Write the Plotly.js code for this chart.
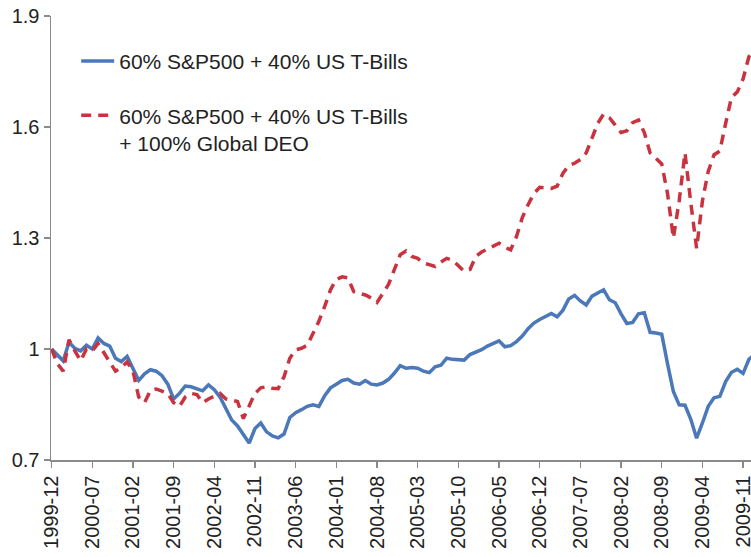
<!DOCTYPE html>
<html>
<head>
<meta charset="utf-8">
<script src="https://cdn.plot.ly/plotly-3.0.1.min.js"></script>
<style>html,body{margin:0;padding:0;background:#fff;}#chart{width:751px;height:557px;}</style>
</head>
<body>
<div id="chart"></div>
<script>
var months = [
'1999-12',
'2000-01','2000-02','2000-03','2000-04','2000-05','2000-06','2000-07','2000-08','2000-09','2000-10','2000-11','2000-12',
'2001-01','2001-02','2001-03','2001-04','2001-05','2001-06','2001-07','2001-08','2001-09','2001-10','2001-11','2001-12',
'2002-01','2002-02','2002-03','2002-04','2002-05','2002-06','2002-07','2002-08','2002-09','2002-10','2002-11','2002-12',
'2003-01','2003-02','2003-03','2003-04','2003-05','2003-06','2003-07','2003-08','2003-09','2003-10','2003-11','2003-12',
'2004-01','2004-02','2004-03','2004-04','2004-05','2004-06','2004-07','2004-08','2004-09','2004-10','2004-11','2004-12',
'2005-01','2005-02','2005-03','2005-04','2005-05','2005-06','2005-07','2005-08','2005-09','2005-10','2005-11','2005-12',
'2006-01','2006-02','2006-03','2006-04','2006-05','2006-06','2006-07','2006-08','2006-09','2006-10','2006-11','2006-12',
'2007-01','2007-02','2007-03','2007-04','2007-05','2007-06','2007-07','2007-08','2007-09','2007-10','2007-11','2007-12',
'2008-01','2008-02','2008-03','2008-04','2008-05','2008-06','2008-07','2008-08','2008-09','2008-10','2008-11','2008-12',
'2009-01','2009-02','2009-03','2009-04','2009-05','2009-06','2009-07','2009-08','2009-09','2009-10','2009-11','2009-12',
'2010-01'
];

var portfolio6040 = [
1.000,
0.985,0.968,1.018,1.002,0.995,1.010,1.000,1.030,1.015,1.008,0.975,0.966,
0.980,0.945,0.915,0.933,0.944,0.940,0.928,0.905,0.865,0.880,0.900,0.898,
0.893,0.887,0.903,0.890,0.870,0.838,0.808,0.792,0.770,0.746,0.785,0.800,
0.776,0.765,0.760,0.770,0.815,0.828,0.836,0.845,0.849,0.845,0.874,0.895,
0.905,0.915,0.918,0.908,0.905,0.915,0.905,0.903,0.908,0.918,0.935,0.955,
0.948,0.950,0.948,0.940,0.936,0.952,0.956,0.975,0.972,0.972,0.970,0.985,
0.992,0.998,1.008,1.015,1.022,1.006,1.009,1.020,1.035,1.055,1.070,1.080,
1.088,1.096,1.087,1.105,1.135,1.145,1.130,1.119,1.143,1.152,1.160,1.133,
1.125,1.095,1.069,1.072,1.095,1.098,1.045,1.043,1.040,0.960,0.885,0.849,
0.848,0.810,0.759,0.800,0.845,0.868,0.872,0.912,0.937,0.945,0.934,0.972,
0.985
];

var portfolioDEO = [
1.000,
0.960,0.940,1.025,0.995,0.968,1.000,0.995,1.015,0.990,0.966,0.940,0.950,
0.965,0.940,0.870,0.855,0.888,0.892,0.886,0.880,0.855,0.845,0.870,0.880,
0.877,0.855,0.865,0.872,0.880,0.865,0.862,0.858,0.812,0.845,0.880,0.895,
0.898,0.894,0.893,0.925,0.975,0.998,1.002,1.010,1.040,1.075,1.115,1.160,
1.188,1.195,1.192,1.155,1.150,1.146,1.138,1.126,1.150,1.175,1.215,1.255,
1.265,1.250,1.245,1.232,1.228,1.223,1.235,1.245,1.240,1.225,1.210,1.215,
1.250,1.262,1.270,1.278,1.286,1.275,1.268,1.304,1.355,1.390,1.420,1.437,
1.435,1.434,1.440,1.475,1.496,1.502,1.512,1.530,1.570,1.610,1.635,1.625,
1.605,1.585,1.590,1.612,1.619,1.585,1.530,1.515,1.500,1.420,1.300,1.400,
1.530,1.395,1.272,1.400,1.480,1.525,1.535,1.610,1.680,1.695,1.730,1.790,
1.810
];

var xTickLabels = ['1999-12','2000-07','2001-02','2001-09','2002-04','2002-11','2003-06','2004-01','2004-08','2005-03','2005-10','2006-05','2006-12','2007-07','2008-02','2008-09','2009-04','2009-11'];
var yTickValues = [0.7, 1, 1.3, 1.6, 1.9];
var yTickLabels = ['0.7', '1', '1.3', '1.6', '1.9'];
var seriesNames = ['60% S&P500 + 40% US T-Bills', '60% S&P500 + 40% US T-Bills<br>+ 100% Global DEO'];

var FONT = 'Liberation Sans, Arial, sans-serif';
var traces = [
  {x: months, y: portfolio6040, type: 'scatter', mode: 'lines', name: seriesNames[0], legendgroup: 'a',
   line: {color: '#4a78b8', width: 3.5}},
  {x: months, y: portfolioDEO, type: 'scatter', mode: 'lines', name: seriesNames[1], legendgroup: 'b',
   line: {color: '#c8333f', width: 3.5, dash: '10px,7px'}}
];

var layout = {
  width: 751, height: 557,
  margin: {l: 51, r: 0, t: 16, b: 97, pad: 0},
  paper_bgcolor: '#ffffff', plot_bgcolor: '#ffffff',
  font: {family: FONT, size: 20, color: '#222222'},
  showlegend: true,
  legend: {x: 0.036, y: 0.944, xanchor: 'left', yanchor: 'top', bgcolor: 'rgba(0,0,0,0)',
           font: {family: FONT, size: 21, color: '#222222'}, tracegroupgap: 24, valign: 'top', itemwidth: 33},
  xaxis: {type: 'category', range: [-0.1, 120.36], showgrid: false, zeroline: false,
          showline: true, linecolor: '#8a8a8a', linewidth: 1.5,
          ticks: 'outside', ticklen: 6, tickcolor: '#8a8a8a', tickwidth: 1.5,
          tickmode: 'array', tickvals: xTickLabels, ticktext: xTickLabels,
          tickangle: -90, tickfont: {family: FONT, size: 20, color: '#222222'}},
  yaxis: {range: [0.7, 1.9], showgrid: false, zeroline: false,
          showline: true, linecolor: '#8a8a8a', linewidth: 1.5,
          ticks: 'outside', ticklen: 6, tickcolor: '#8a8a8a', tickwidth: 1.5,
          tickmode: 'array', tickvals: yTickValues, ticktext: yTickLabels,
          tickfont: {family: FONT, size: 20, color: '#222222'}}
};

Plotly.newPlot('chart', traces, layout, {displayModeBar: false, staticPlot: true});
</script>
</body>
</html>
